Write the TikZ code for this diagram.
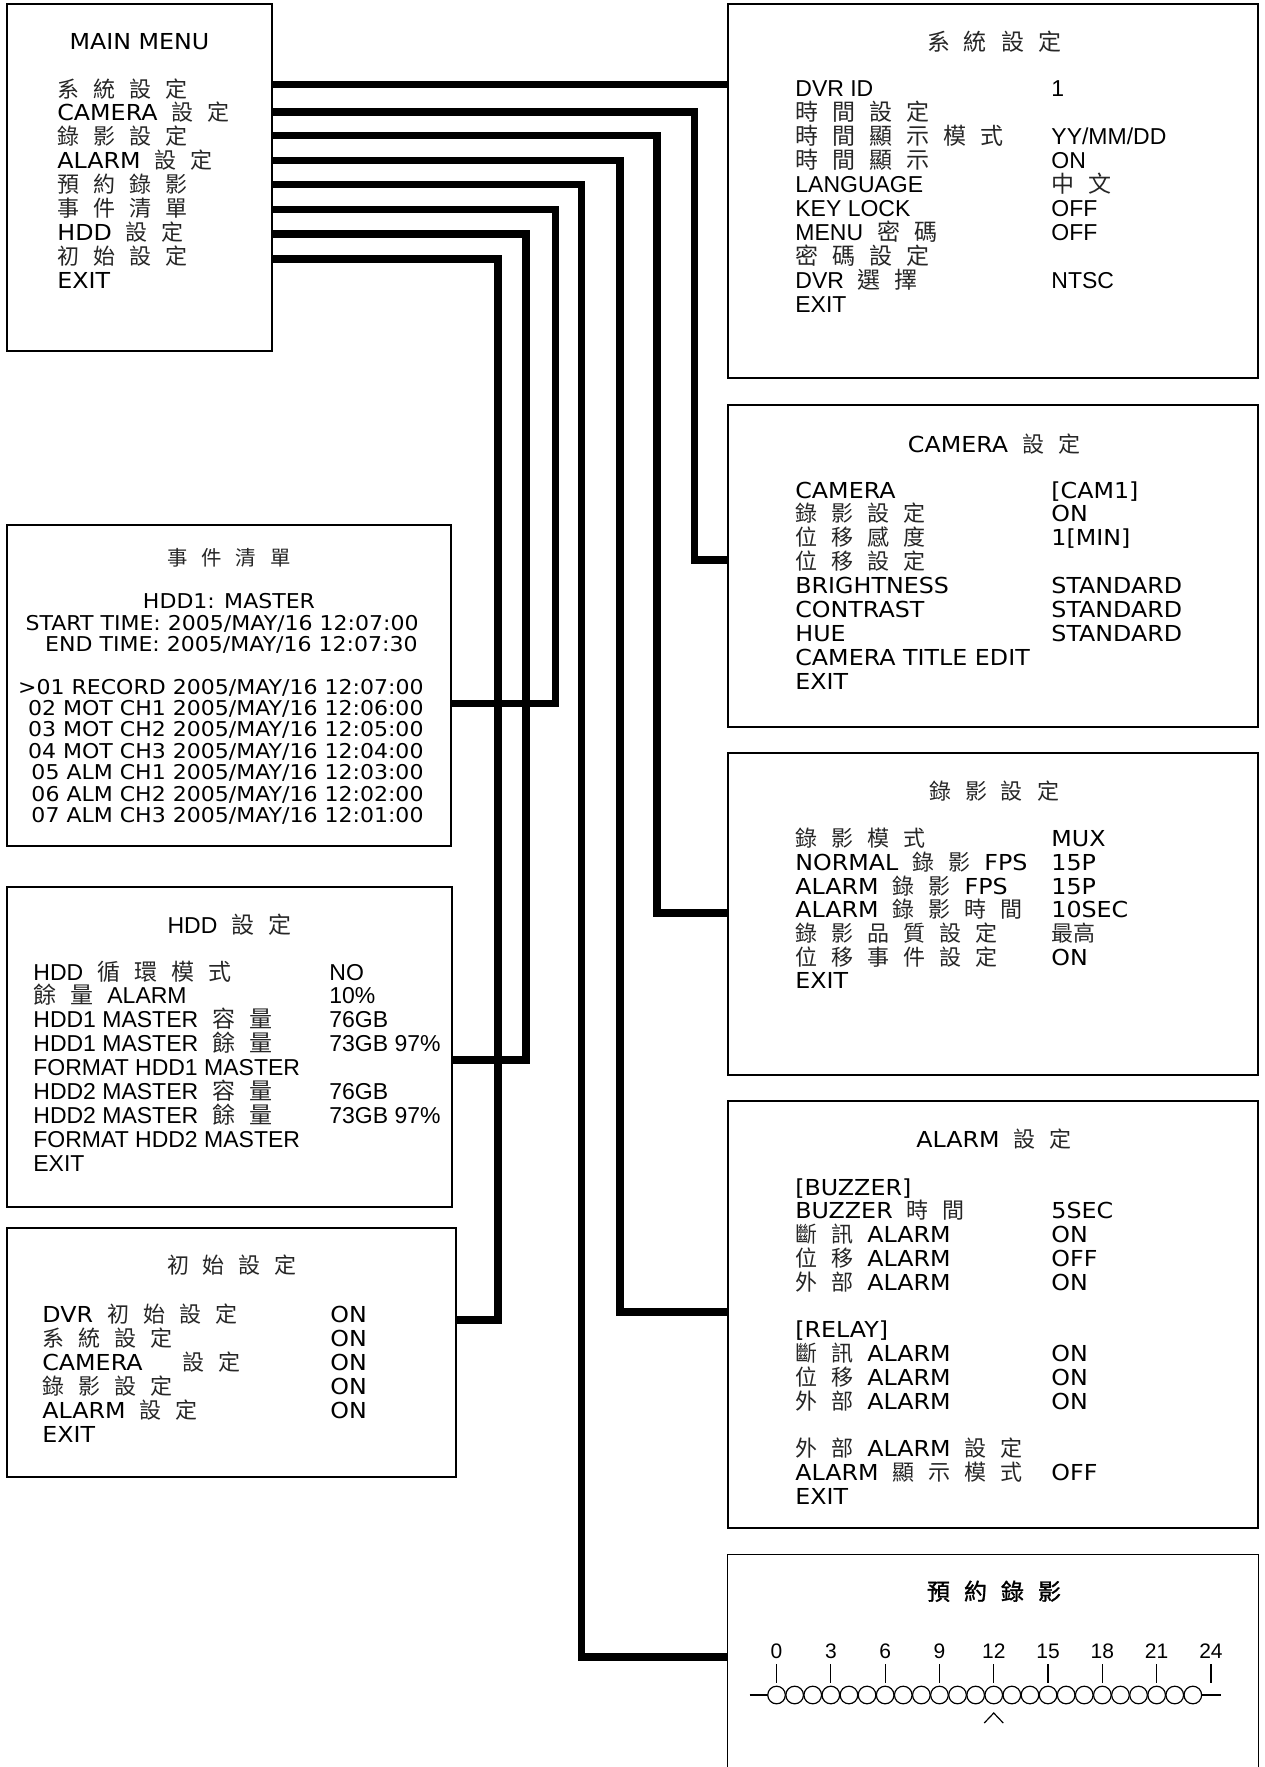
\documentclass[tikz,border=0pt]{standalone}
\usepackage{fontspec}
\setmainfont{Liberation Sans}
\newfontfamily\roundfont{DejaVu Sans}[FakeStretch=1.08]
\newfontfamily\cjk{Noto Sans CJK TC}
\newfontfamily\cjkheavy{Noto Sans CJK TC}[FakeBold=1.2]
\usetikzlibrary{fit}
\newcommand{\zh}[1]{{\cjk\color{black!85}\spaceskip=7pt\relax #1}}
\newcommand{\zhb}[1]{{\cjkheavy\spaceskip=7pt\relax #1}}
\newcommand{\arialtext}{\fontsize{11.5pt}{14pt}\selectfont}
\newcommand{\roundtext}{\roundfont\fontsize{11pt}{13pt}\selectfont}
\newcommand{\eventtext}{\roundfont\fontsize{10.2pt}{12pt}\selectfont}
\newcommand{\hourtext}{\fontsize{10.5pt}{12pt}\selectfont}
\tikzstyle{menubox}=[draw,line width=0.8pt,inner sep=0pt]
\tikzstyle{link}=[draw,line width=3.8pt]
\tikzstyle{rowtext}=[anchor=base west,inner sep=0pt]
\tikzstyle{headtext}=[anchor=base,inner sep=0pt]
\tikzstyle{slot}=[circle,draw,fill=white,line width=0.6pt,minimum size=8.8pt,inner sep=0pt]
\tikzstyle{hairline}=[draw,line width=0.6pt]

\begin{document}
\begin{tikzpicture}[x=0.5pt,y=-0.5pt]
\useasboundingbox (0,0) rectangle (1264,1767);

% Boxes
\node[menubox, fit={(7,4) (272,351)}] (mainmenu) {};
\node[menubox, fit={(728,4) (1258,378)}] (system) {};
\node[menubox, fit={(728,405) (1258,727)}] (camera) {};
\node[menubox, fit={(728,753) (1258,1075)}] (record) {};
\node[menubox, fit={(728,1101) (1258,1528)}] (alarm) {};
\node[inner sep=0pt, fit={(728,1555) (1258,1767)}] (schedule) {};
\draw[line width=0.8pt] (schedule.south west) |- (schedule.north east) -- (schedule.south east);
\node[menubox, fit={(7,525) (451,846)}] (event) {};
\node[menubox, fit={(7,887) (452,1207)}] (hdd) {};
\node[menubox, fit={(7,1228) (456,1477)}] (init) {};

% Connectors
\path[link] (mainmenu.east |- 0,84.5) -- (system.west |- 0,84.5);
\foreach \ya/\xb/\yb/\dest in {112.2/694.3/560/camera, 135.5/657/913/record, 160.5/619.7/1312/alarm, 184.5/581.3/1657/schedule}
    \path[link] (mainmenu.east |- 0,\ya) -| (\xb,\yb) -- (\dest.west |- 0,\yb);
\foreach \ya/\xb/\yb/\dest in {209.5/555.3/703.6/event, 233.8/526/1060/hdd, 258.8/498/1320/init}
    \path[link] (mainmenu.east |- 0,\ya) -| (\xb,\yb) -- (\dest.east |- 0,\yb);

%MAIN MENU
\node[headtext, font=\roundtext] (mmTitle) at (139.5,49) {MAIN MENU};
\foreach \txt [count=\n from 0] in {\zh{系 統 設 定}, CAMERA\zh{ 設 定}, \zh{錄 影 設 定}, ALARM\zh{ 設 定}, \zh{預 約 錄 影}, \zh{事 件 清 單}, HDD\zh{ 設 定}, \zh{初 始 設 定}, EXIT}
    \node[rowtext, font=\roundtext] (mm\n) at (57, 97+23.9*\n) {\txt};

%system
\node[headtext, font=\arialtext] (sysTitle) at (994,50) {\zh{系 統 設 定}};
\foreach \txt [count=\n from 0] in {DVR ID, \zh{時 間 設 定}, \zh{時 間 顯 示 模 式}, \zh{時 間 顯 示}, LANGUAGE, KEY LOCK, MENU\zh{ 密 碼}, \zh{密 碼 設 定}, DVR\zh{ 選 擇}, EXIT}
    \node[rowtext, font=\arialtext] (sysL\n) at (795, 96.7+23.95*\n) {\txt};
\foreach \n/\txt in {0/1, 2/{YY/MM/DD}, 3/ON, 4/{\zh{中 文}}, 5/OFF, 6/OFF, 8/NTSC}
    \node[rowtext, font=\arialtext] (sysV\n) at (1051, 96.7+23.95*\n) {\txt};

%camera
\node[headtext, font=\roundtext] (camTitle) at (994,452) {CAMERA\zh{ 設 定}};
\foreach \txt [count=\n from 0] in {CAMERA, \zh{錄 影 設 定}, \zh{位 移 感 度}, \zh{位 移 設 定}, BRIGHTNESS, CONTRAST, HUE, CAMERA TITLE EDIT, EXIT}
    \node[rowtext, font=\roundtext] (camL\n) at (795, 498+23.9*\n) {\txt};
\foreach \n/\txt in {0/{[CAM1]}, 1/ON, 2/{1[MIN]}, 4/STANDARD, 5/STANDARD, 6/STANDARD}
    \node[rowtext, font=\roundtext] (camV\n) at (1051, 498+23.9*\n) {\txt};

%record
\node[headtext, font=\roundtext] (recTitle) at (994,799) {\zh{錄 影 設 定}};
\foreach \txt [count=\n from 0] in {\zh{錄 影 模 式}, NORMAL\zh{ 錄 影 }FPS, ALARM\zh{ 錄 影 }FPS, ALARM\zh{ 錄 影 時 間}, \zh{錄 影 品 質 設 定}, \zh{位 移 事 件 設 定}, EXIT}
    \node[rowtext, font=\roundtext] (recL\n) at (795, 846.7+23.7*\n) {\txt};
\foreach \n/\txt in {0/MUX, 1/15P, 2/15P, 3/10SEC, 4/{\zh{最高}}, 5/ON}
    \node[rowtext, font=\roundtext] (recV\n) at (1051, 846.7+23.7*\n) {\txt};

%alarm
\node[headtext, font=\roundtext] (almTitle) at (994,1147) {ALARM\zh{ 設 定}};
\foreach \n/\txt in {0/{[BUZZER]}, 1/{BUZZER\zh{ 時 間}}, 2/{\zh{斷 訊 }ALARM}, 3/{\zh{位 移 }ALARM}, 4/{\zh{外 部 }ALARM}, 6/{[RELAY]}, 7/{\zh{斷 訊 }ALARM}, 8/{\zh{位 移 }ALARM}, 9/{\zh{外 部 }ALARM}, 11/{\zh{外 部 }ALARM\zh{ 設 定}}, 12/{ALARM\zh{ 顯 示 模 式}}, 13/EXIT}
    \node[rowtext, font=\roundtext] (almL\n) at (795, 1195+23.8*\n) {\txt};
\foreach \n/\txt in {1/5SEC, 2/ON, 3/OFF, 4/ON, 7/ON, 8/ON, 9/ON, 12/OFF}
    \node[rowtext, font=\roundtext] (almV\n) at (1051, 1195+23.8*\n) {\txt};

%event list
\node[headtext, font=\eventtext] (evTitle) at (229,565) {\zh{事 件 清 單}};
\node[headtext, font=\eventtext] (evDisk) at (229,608) {HDD1: MASTER};
\node[anchor=base east, inner sep=0pt, font=\eventtext] (evStart) at (419,630) {START TIME: 2005/MAY/16 12:07:00};
\node[anchor=base east, inner sep=0pt, font=\eventtext] (evEnd) at (418,651) {END TIME: 2005/MAY/16 12:07:30};
\foreach \txt [count=\n from 0] in {>01 RECORD 2005/MAY/16 12:07:00, 02 MOT CH1 2005/MAY/16 12:06:00, 03 MOT CH2 2005/MAY/16 12:05:00, 04 MOT CH3 2005/MAY/16 12:04:00, 05 ALM CH1 2005/MAY/16 12:03:00, 06 ALM CH2 2005/MAY/16 12:02:00, 07 ALM CH3 2005/MAY/16 12:01:00}
    \node[anchor=base east, inner sep=0pt, font=\eventtext] (ev\n) at (424, 694+21.4*\n) {\txt};

%hdd
\node[headtext, font=\arialtext] (hddTitle) at (229.5,933) {HDD\zh{ 設 定}};
\foreach \txt [count=\n from 0] in {HDD\zh{ 循 環 模 式}, \zh{餘 量 }ALARM, HDD1 MASTER\zh{ 容 量}, HDD1 MASTER\zh{ 餘 量}, FORMAT HDD1 MASTER, HDD2 MASTER\zh{ 容 量}, HDD2 MASTER\zh{ 餘 量}, FORMAT HDD2 MASTER, EXIT}
    \node[rowtext, font=\arialtext] (hddL\n) at (33, 980+23.9*\n) {\txt};
\foreach \n/\txt in {0/NO, 1/10\%, 2/76GB, 3/73GB 97\%, 5/76GB, 6/73GB 97\%}
    \node[rowtext, font=\arialtext] (hddV\n) at (329, 980+23.9*\n) {\txt};

%init
\node[headtext, font=\roundtext] (iniTitle) at (232,1273) {\zh{初 始 設 定}};
\foreach \txt [count=\n from 0] in {DVR\zh{ 初 始 設 定}, \zh{系 統 設 定}, CAMERA\hspace{13pt}\zh{ 設 定}, \zh{錄 影 設 定}, ALARM\zh{ 設 定}, EXIT}
    \node[rowtext, font=\roundtext] (iniL\n) at (42, 1322+24*\n) {\txt};
\foreach \n in {0,...,4}
    \node[rowtext, font=\roundtext] (iniV\n) at (330, 1322+24*\n) {ON};

%schedule
\node[headtext, font=\arialtext] (schTitle) at (994,1600) {\zhb{預 約 錄 影}};
\coordinate (lineL) at (749.5,1695);
\coordinate (lineR) at (1221,1695);
\draw[hairline] (lineL) -- (lineR);
\foreach \k in {0,...,23}
    \node[slot] (slot\k) at (776.55+18.1*\k, 1695) {};
\foreach \k in {0,3,...,24}{
    \coordinate (mark\k) at (776.55+18.1*\k, 1664);
    \draw[hairline] (mark\k) -- ++(0,19);
    \node[headtext, font=\hourtext] (hour\k) at (776.55+18.1*\k, 1658) {\k};
}
\coordinate (caret) at (993.75,1713);
\draw[hairline] (caret) ++(-9.5,10) -- (caret) -- ++(9.5,10);

\end{tikzpicture}
\end{document}
